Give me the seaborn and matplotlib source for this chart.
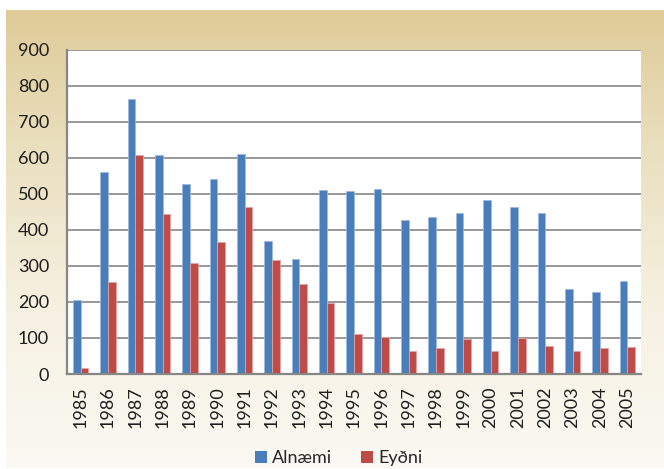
import numpy as np
import pandas as pd
import matplotlib
matplotlib.use("Agg")
import matplotlib.pyplot as plt
import seaborn as sns
from matplotlib.colors import LinearSegmentedColormap
from matplotlib.patches import Patch

years = ["1985", "1986", "1987", "1988", "1989", "1990", "1991", "1992", "1993", "1994", "1995",
         "1996", "1997", "1998", "1999", "2000", "2001", "2002", "2003", "2004", "2005"]
alnaemi = [205, 560, 763, 607, 527, 543, 610, 369, 319, 511, 508,
           514, 429, 435, 447, 483, 463, 447, 235, 228, 257]
eydni = [16, 255, 607, 444, 308, 368, 463, 316, 250, 196, 111,
         102, 63, 71, 96, 63, 101, 77, 63, 71, 75]
series_names = ["Alnæmi", "Eyðni"]
yticks = [0, 100, 200, 300, 400, 500, 600, 700, 800, 900]

df = pd.DataFrame({
    "year": years * 2,
    "value": alnaemi + eydni,
    "series": [series_names[0]] * len(years) + [series_names[1]] * len(years),
})

sns.set_theme(style="white")
plt.rcParams["font.family"] = ["Lato", "DejaVu Sans"]

W, H = 664, 469
fig = plt.figure(figsize=(W / 100, H / 100), dpi=100)
fig.patch.set_facecolor("white")

# gradient background panel
bg = fig.add_axes([6 / W, 1 - 468 / H, (W - 6) / W, (468 - 10) / H], zorder=0)
cmap = LinearSegmentedColormap.from_list("bg", ["#DECB98", "#EBE1C2", "#F6F1E2", "#FBF9F3"])
grad = np.linspace(0, 1, 256).reshape(-1, 1)
bg.imshow(grad, aspect="auto", cmap=cmap, extent=[0, 1, 0, 1], origin="upper")
bg.set_axis_off()

ax = fig.add_axes([67 / W, 1 - 374 / H, (641 - 67) / W, (374 - 50) / H], zorder=1)
ax.set_facecolor("white")

colors = ["#4A7EBB", "#BE4B48"]
sns.barplot(data=df, x="year", y="value", hue="series", palette=colors,
            width=0.56, gap=0, ax=ax, legend=False, saturation=1)

edge_cols = ["#9DBBE0", "#E3A3A1"]
for i, cont in enumerate(ax.containers):
    for b in cont:
        b.set_edgecolor(edge_cols[i])
        b.set_linewidth(0.6)

ax.set_ylim(0, 900)
ax.set_xlim(-0.5, len(years) - 0.5)
ax.set_yticks(yticks)
ax.set_yticklabels([str(t) for t in yticks])
ax.yaxis.grid(True, color="#868686", linewidth=1.2)
ax.set_axisbelow(True)
ax.set_xlabel("")
ax.set_ylabel("")
for s in ["top", "right"]:
    ax.spines[s].set_visible(False)
for s in ["left", "bottom"]:
    ax.spines[s].set_color("#868686")
    ax.spines[s].set_linewidth(1.6)
ax.tick_params(axis="y", length=0, pad=13, labelsize=13, labelcolor="#1E1E1E")
ax.tick_params(axis="x", length=0, pad=9, labelsize=13, labelcolor="#1E1E1E", rotation=90)

handles = [Patch(facecolor=colors[0], edgecolor="none"), Patch(facecolor=colors[1], edgecolor="none")]
fig.legend(handles, series_names, loc="center", bbox_to_anchor=(339 / W, 1 - 458 / H),
           ncol=2, frameon=False, fontsize=13, handlelength=0.65, handleheight=0.65,
           handletextpad=0.3, columnspacing=1.6)

fig.savefig("out.png", dpi=100)
